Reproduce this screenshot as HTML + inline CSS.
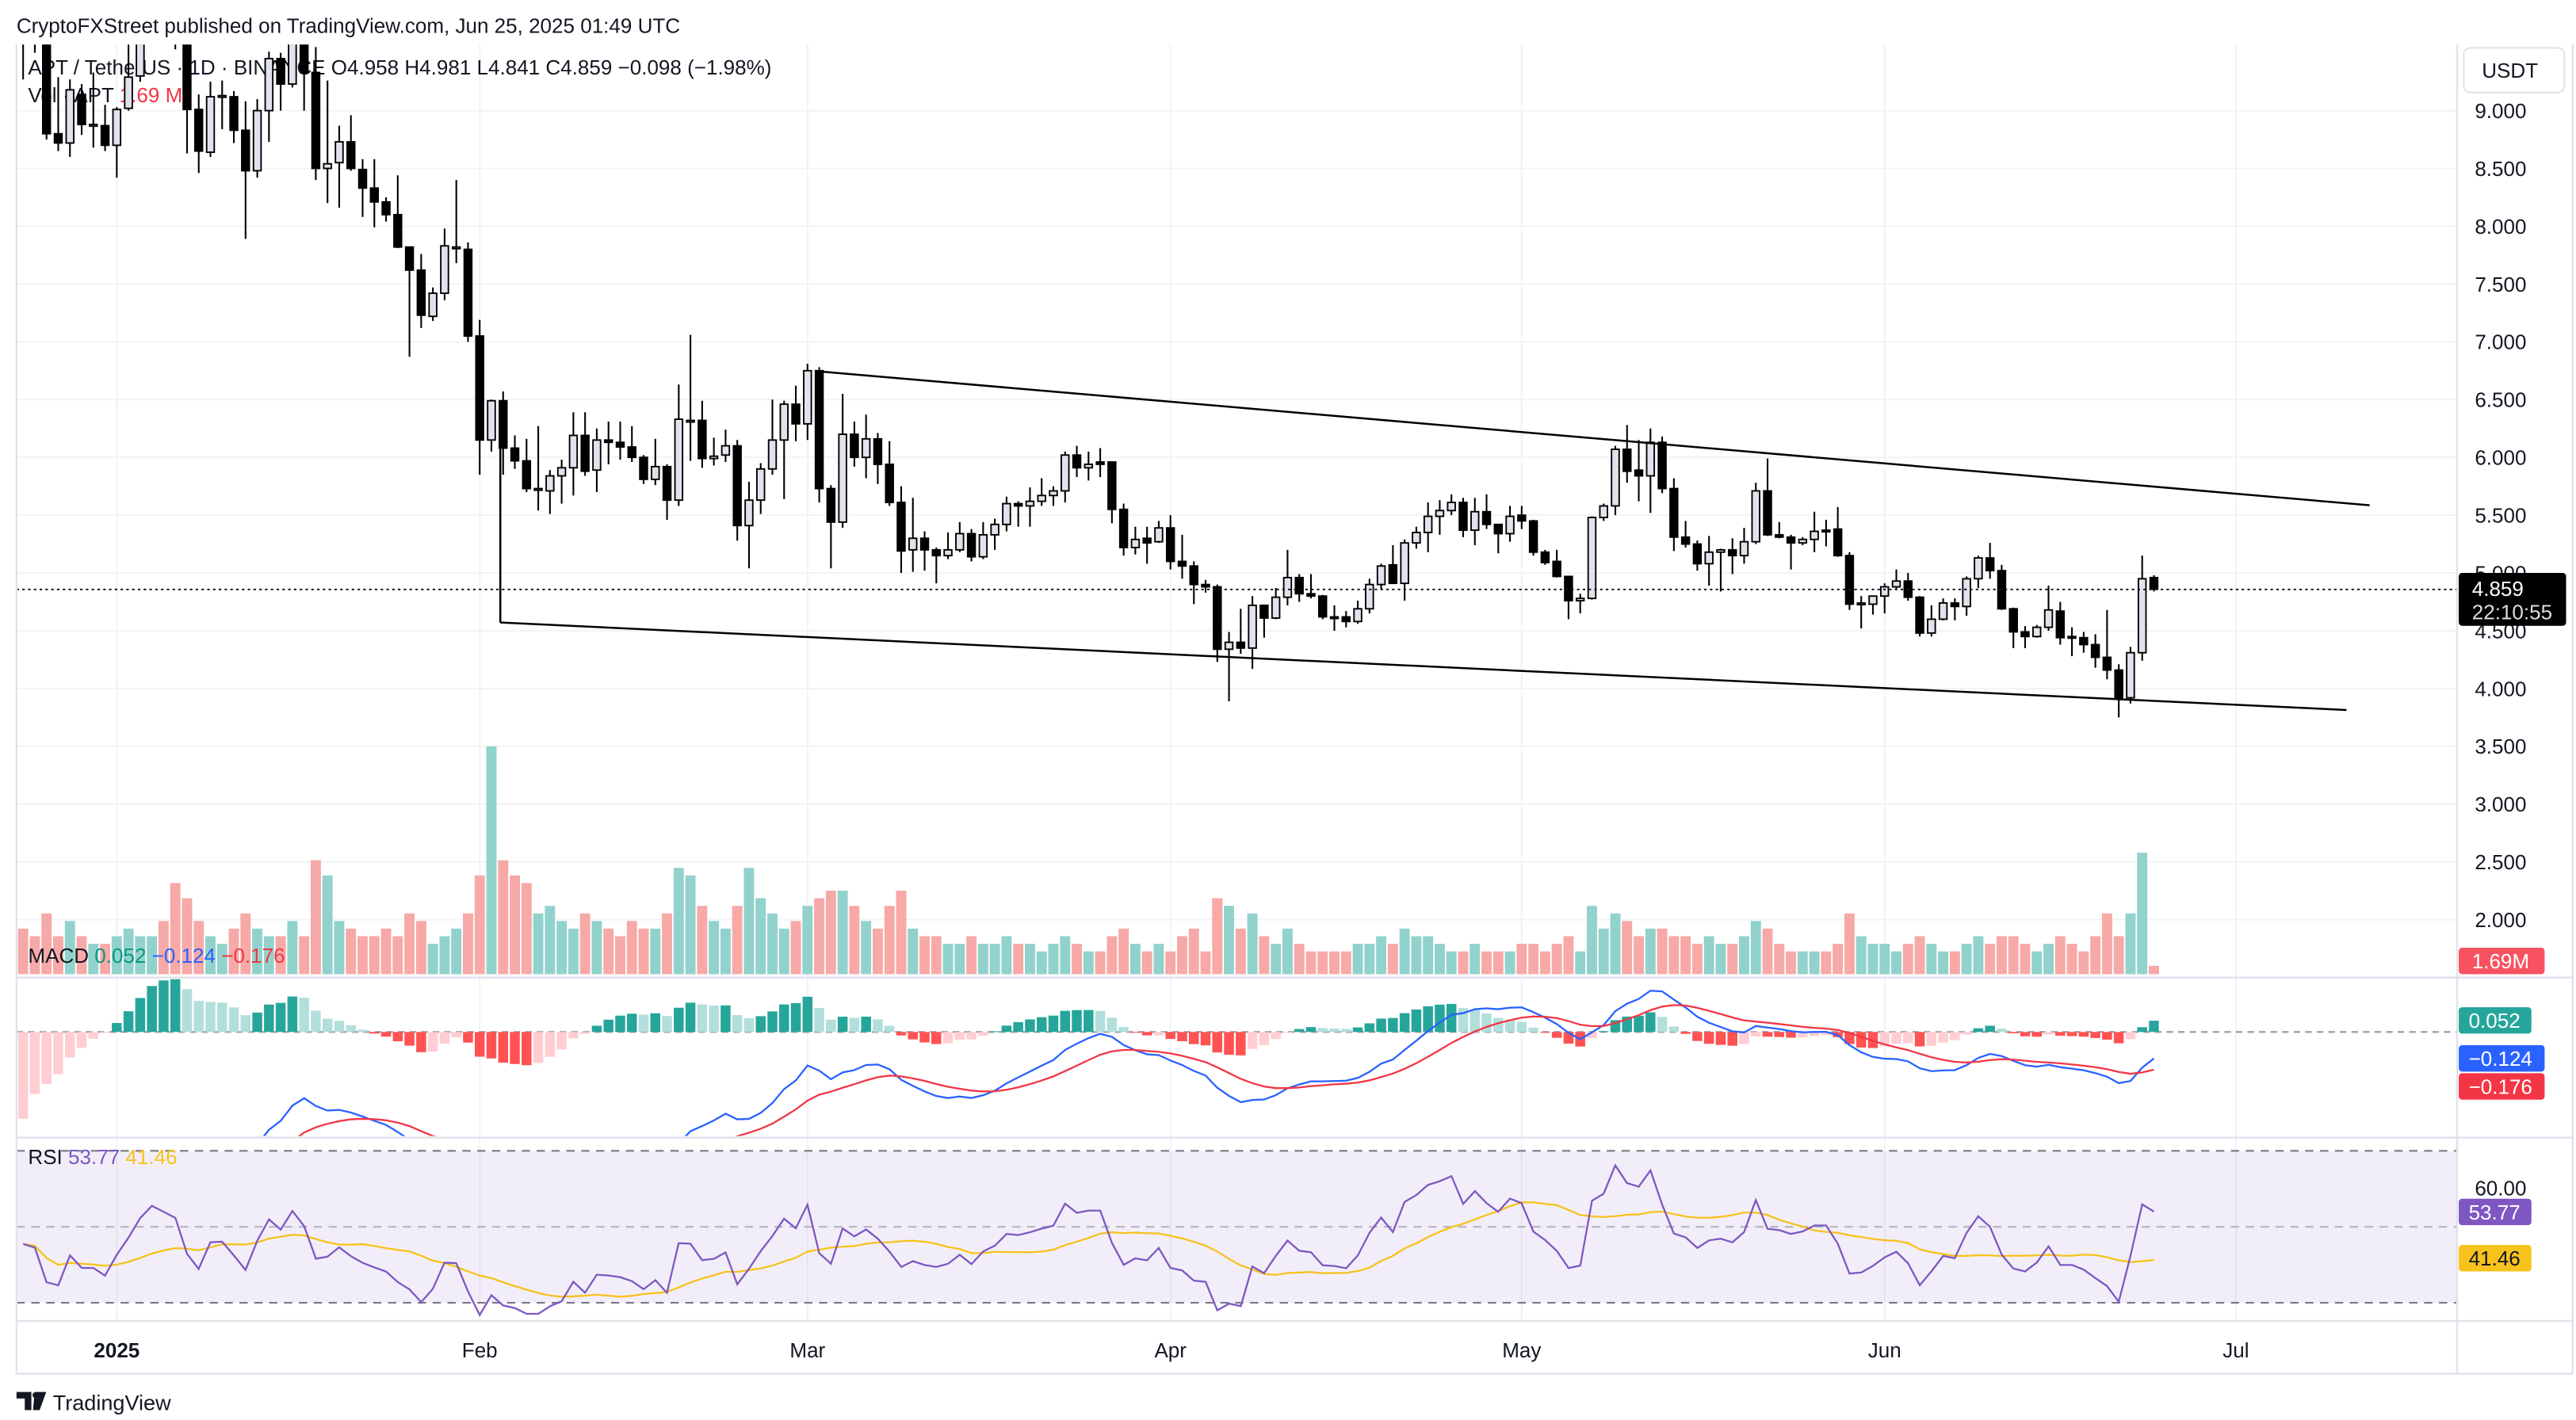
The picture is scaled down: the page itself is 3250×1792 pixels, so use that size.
<!DOCTYPE html>
<html><head><meta charset="utf-8"><title>APT/USDT</title>
<style>
html,body{margin:0;padding:0;background:#fff;}
svg{display:block;font-family:"Liberation Sans",Arial,sans-serif;}
</style></head>
<body>
<svg id="chart" width="3250" height="1792" viewBox="0 0 1560 860" preserveAspectRatio="none" xmlns="http://www.w3.org/2000/svg">
<defs>
<clipPath id="cpPrice"><rect x="10" y="27" width="1478" height="564"/></clipPath>
<clipPath id="cpMacd"><rect x="10" y="593" width="1478" height="95"/></clipPath>
<clipPath id="cpRsi"><rect x="10" y="690" width="1478" height="110"/></clipPath>
</defs>
<rect x="0" y="0" width="1560" height="860" fill="#fff"/>
<text x="10" y="20" font-size="12.5" fill="#131722">CryptoFXStreet published on TradingView.com, Jun 25, 2025 01:49 UTC</text>
<g id="grid"></g>
<rect x="10" y="697" width="1478" height="92" fill="#7e57c2" fill-opacity="0.1"/>
<g font-size="12.5" fill="#131722">
<text x="17" y="45">APT / TetherUS · 1D · BINANCE  O4.958  H4.981  L4.841  C4.859  −0.098 (−1.98%)</text>
<text x="17" y="62">Vol · APT <tspan fill="#f23645">1.69 M</tspan></text>
</g>
<g id="vol" clip-path="url(#cpPrice)"></g>
<g id="candles" clip-path="url(#cpPrice)"></g>
<g stroke="#000" stroke-width="1.2" fill="none">
<line x1="497" y1="225" x2="1435" y2="306"/>
<line x1="303" y1="377" x2="1421" y2="430"/>
<line x1="303" y1="265" x2="303" y2="377"/>
</g>
<line x1="10" y1="357" x2="1488" y2="357" stroke="#131722" stroke-width="1" stroke-dasharray="1.5 2"/>
<g id="macd"></g>
<g id="rsi"></g>
<g stroke="#e0e3eb" stroke-width="1.2">
<line x1="10" y1="592" x2="1558" y2="592"/>
<line x1="10" y1="689" x2="1558" y2="689"/>
<line x1="10" y1="800" x2="1558" y2="800"/>
<line x1="10" y1="832" x2="1558" y2="832"/>
<line x1="10" y1="27" x2="10" y2="832"/>
<line x1="1488" y1="27" x2="1488" y2="832"/>
<line x1="1558" y1="27" x2="1558" y2="832"/>
</g>
<g font-size="12.5">
<text x="17" y="583" fill="#131722">MACD <tspan fill="#089981">0.052</tspan> <tspan fill="#2962ff">−0.124</tspan> <tspan fill="#f23645">−0.176</tspan></text>
</g>
<g font-size="12.5">
<text x="17" y="705" fill="#131722">RSI <tspan fill="#7e57c2">53.77</tspan> <tspan fill="#f7c21b">41.46</tspan></text>
</g>
<g id="yaxis" font-size="12.5" fill="#131722" text-anchor="end"></g>
<rect x="1492" y="29" width="61" height="27" rx="4" fill="#fff" stroke="#e0e3eb"/>
<text x="1503" y="47" font-size="12.5" fill="#131722">USDT</text>
<g>
<rect x="1489" y="347" width="65" height="32" rx="2" fill="#000"/>
<text x="1497" y="361" font-size="12.5" fill="#fff">4.859</text>
<text x="1497" y="375" font-size="12.5" fill="#ddd">22:10:55</text>
</g>
<g>
<rect x="1489" y="574" width="52" height="16" rx="2" fill="#f7525f"/>
<text x="1497" y="586.5" font-size="12.5" fill="#fff">1.69M</text>
</g>
<g font-size="12.5">
<rect x="1489" y="610" width="44" height="16" rx="2" fill="#26a69a"/><text x="1495" y="622.5" fill="#fff">0.052</text>
<rect x="1489" y="633" width="52" height="16" rx="2" fill="#2962ff"/><text x="1495" y="645.5" fill="#fff">−0.124</text>
<rect x="1489" y="650" width="52" height="16" rx="2" fill="#f23645"/><text x="1495" y="662.5" fill="#fff">−0.176</text>
</g>
<g font-size="12.5">
<text x="1530" y="724" text-anchor="end" fill="#131722">60.00</text>
<rect x="1489" y="726" width="44" height="16" rx="2" fill="#7e57c2"/><text x="1495" y="738.5" fill="#fff">53.77</text>
<rect x="1489" y="754" width="44" height="16" rx="2" fill="#f7c21b"/><text x="1495" y="766.5" fill="#131722">41.46</text>
</g>
<g id="xaxis" font-size="12.5" fill="#131722" text-anchor="middle"></g>
<g>
<path d="M10 843 h9 v11 h-4 v-7 h-5z M21 843 h7 l-4 11 h-4z" fill="#131722"/>
<circle cx="21.5" cy="845" r="1.8" fill="#131722"/>
<text x="32" y="854" font-size="13" fill="#131722">TradingView</text>
</g>
</svg>
<script>
const startDate = "2024-12-24";
const opens = [9.8,9.62,9.6,8.8,8.72,9.14,8.88,8.87,8.70,9.02,
9.3,9.65,9.9,9.8,9.7,9.01,8.64,9.13,9.12,8.83,
8.48,9.0,9.45,9.23,9.65,9.33,8.5,8.55,8.73,8.49,
8.33,8.21,8.1,7.82,7.62,7.22,7.42,7.82,7.8,7.05,
6.15,6.49,6.08,5.97,5.73,5.71,5.84,5.91,6.19,5.89,
6.15,6.13,6.09,6.0,5.81,5.92,5.63,6.32,6.32,5.99,
6.02,6.1,5.41,5.63,5.9,6.15,6.46,6.29,6.75,5.73,
5.44,6.2,6.0,6.16,5.94,5.61,5.2,5.3,5.2,5.15,
5.2,5.34,5.14,5.33,5.42,5.6,5.58,5.62,5.67,5.71,
6.02,5.91,5.96,5.96,5.55,5.22,5.3,5.27,5.39,5.1,
5.06,4.9,4.88,4.34,4.4,4.35,4.72,4.61,4.79,4.96,
4.82,4.8,4.62,4.62,4.58,4.69,4.9,5.07,4.91,5.26,
5.35,5.49,5.54,5.61,5.37,5.53,5.42,5.34,5.5,5.45,
5.18,5.1,4.97,4.76,4.78,5.48,5.58,6.07,5.89,5.84,
6.13,5.73,5.31,5.25,5.08,5.18,5.2,5.15,5.27,5.71,
5.33,5.31,5.26,5.29,5.37,5.38,5.15,4.74,4.73,4.8,
4.88,4.93,4.79,4.48,4.6,4.74,4.71,4.95,5.13,5.02,
4.69,4.49,4.45,4.53,4.67,4.45,4.44,4.38,4.27,4.16,
3.92,4.31,4.96];
const highs = [9.85,9.7,9.62,9.29,9.27,9.23,9.33,9.05,9.03,9.6,
9.7,10.0,10.1,9.9,9.75,9.14,9.25,9.26,9.17,9.08,
9.1,9.51,9.5,9.7,9.7,9.55,9.26,8.87,8.96,8.58,
8.58,8.25,8.44,7.82,7.76,7.47,7.98,8.4,7.86,7.19,
6.5,6.57,6.19,6.16,6.27,5.89,5.98,6.39,6.39,6.25,
6.31,6.31,6.27,6.02,6.16,5.94,6.63,7.06,6.49,6.17,
6.24,6.15,5.79,5.95,6.5,6.49,6.62,6.81,6.78,5.76,
6.55,6.31,6.37,6.21,6.14,5.75,5.65,5.36,5.22,5.35,
5.44,5.38,5.44,5.47,5.66,5.62,5.74,5.82,5.75,6.05,
6.1,6.05,6.08,5.96,5.6,5.4,5.4,5.45,5.5,5.33,
5.1,4.94,4.9,4.49,4.69,4.8,4.72,4.87,5.2,4.99,
4.99,4.81,4.72,4.67,4.76,4.95,5.08,5.24,5.29,5.4,
5.61,5.63,5.68,5.65,5.65,5.68,5.42,5.58,5.58,5.46,
5.2,5.2,4.97,4.82,5.49,5.6,6.1,6.28,6.15,6.25,
6.18,5.82,5.45,5.28,5.32,5.21,5.3,5.39,5.78,5.99,
5.44,5.33,5.31,5.53,5.46,5.57,5.18,4.8,4.8,4.91,
5.03,5.0,4.8,4.72,4.78,4.78,4.97,5.15,5.26,5.07,
4.7,4.54,4.55,4.89,4.75,4.53,4.49,4.47,4.68,4.21,
4.36,5.15,4.98];
const lows = [9.27,9.5,8.75,8.65,8.6,8.79,8.68,8.65,8.42,9.0,
9.25,9.6,9.6,9.53,8.63,8.46,8.6,8.84,8.72,7.89,
8.42,8.73,9.0,9.2,9.0,8.4,8.2,8.16,8.48,8.08,
7.99,8.04,7.81,6.87,7.12,7.18,7.36,7.68,7.0,5.85,
6.05,5.85,5.9,5.7,5.54,5.51,5.6,5.67,5.84,5.7,
5.94,5.98,5.96,5.77,5.76,5.46,5.58,5.97,5.91,5.93,
5.96,5.28,5.04,5.51,5.85,5.64,6.14,6.15,5.61,5.04,
5.39,5.92,5.82,5.77,5.58,5.0,5.01,5.02,4.91,5.12,
5.18,5.1,5.12,5.2,5.36,5.4,5.4,5.58,5.58,5.61,
5.83,5.8,5.83,5.43,5.15,5.16,5.08,5.26,5.03,4.95,
4.73,4.83,4.23,3.89,4.3,4.17,4.44,4.6,4.72,4.75,
4.78,4.6,4.5,4.53,4.56,4.65,4.86,4.91,4.76,5.21,
5.18,5.33,5.5,5.31,5.24,5.38,5.17,5.27,5.38,5.15,
5.07,4.96,4.6,4.65,4.77,5.45,5.5,5.78,5.62,5.52,
5.69,5.19,5.22,5.02,4.89,4.84,4.99,5.08,5.25,5.32,
5.3,5.03,5.24,5.18,5.23,5.14,4.68,4.52,4.64,4.65,
4.86,4.76,4.45,4.45,4.59,4.59,4.63,4.87,4.95,4.68,
4.35,4.35,4.44,4.5,4.38,4.28,4.31,4.18,4.08,3.75,
3.87,4.24,4.84];
const closes = [9.65,9.58,8.8,8.72,9.18,8.88,8.88,8.70,9.01,9.29,
9.65,9.9,9.8,9.7,9.01,8.65,9.12,9.13,8.83,8.48,
9.0,9.45,9.23,9.65,9.33,8.5,8.54,8.73,8.5,8.33,
8.21,8.1,7.82,7.62,7.23,7.42,7.83,7.82,7.05,6.15,
6.49,6.08,5.97,5.73,5.73,5.84,5.91,6.19,5.88,6.15,
6.13,6.09,6.0,5.81,5.92,5.63,6.33,6.32,5.99,6.01,
6.1,5.41,5.63,5.9,6.15,6.46,6.29,6.75,5.73,5.44,
6.2,6.0,6.16,5.94,5.61,5.19,5.3,5.2,5.15,5.2,
5.34,5.14,5.33,5.42,5.6,5.58,5.62,5.67,5.71,6.02,
5.91,5.94,5.94,5.55,5.22,5.29,5.26,5.39,5.1,5.06,
4.9,4.88,4.34,4.4,4.35,4.72,4.61,4.79,4.96,4.82,
4.8,4.62,4.61,4.58,4.69,4.9,5.06,4.91,5.26,5.35,
5.49,5.54,5.61,5.37,5.53,5.42,5.34,5.49,5.45,5.18,
5.09,4.97,4.76,4.78,5.48,5.58,6.07,5.88,5.84,6.13,
5.73,5.31,5.25,5.08,5.18,5.2,5.15,5.27,5.71,5.33,
5.31,5.26,5.29,5.36,5.36,5.15,4.73,4.74,4.8,4.88,
4.93,4.79,4.48,4.6,4.74,4.71,4.95,5.13,5.02,4.69,
4.49,4.45,4.53,4.68,4.44,4.44,4.38,4.27,4.16,3.92,
4.31,4.95,4.86];
const volumes = [6,5,8,5,7,5,4,4,5,6,
5,5,7,12,10,7,5,4,6,8,
6,5,5,7,5,15,13,7,6,5,
5,6,5,8,7,4,5,6,8,13,
30,15,13,12,8,9,7,6,8,7,
6,5,7,6,6,8,14,13,9,7,
6,9,14,10,8,6,7,9,10,11,
11,9,7,6,9,11,6,5,5,4,
4,5,4,4,5,4,4,3,4,5,
4,3,3,5,6,4,3,4,3,5,
6,3,10,9,6,8,5,4,6,4,
3,3,3,3,4,4,5,4,6,5,
5,4,3,3,4,3,3,3,4,4,
3,4,5,3,9,6,8,7,5,6,
6,5,5,4,5,4,4,5,7,6,
4,3,3,3,3,4,8,5,4,4,
3,4,5,4,3,3,4,5,4,5,
5,4,3,4,5,4,3,5,8,5,
8,16,1.1];
const priceTicks = [2,2.5,3,3.5,4,4.5,5,5.5,6,6.5,7,7.5,8,8.5,9];
const monthLabels = ["2025","Feb","Mar","Apr","May","Jun","Jul"];
const monthDates = ["2025-01-01","2025-02-01","2025-03-01","2025-04-01","2025-05-01","2025-06-01","2025-07-01"];

const NS = "http://www.w3.org/2000/svg";
const X0 = 14, DX = 7.09;
const t0 = Date.parse(startDate + "T00:00:00Z");
function xIdx(i){ return X0 + i*DX; }
function xDate(s){ return xIdx((Date.parse(s + "T00:00:00Z") - t0)/86400000); }
function yP(p){ return 67 + (9 - p)*70; }
function yV(v){ return 590 - v*4.6; }
function yM(m){ return 625 - m*130; }
function yR(r){ return 743 - (r - 50)*2.3; }
function mk(tag, attrs, parent){
  const e = document.createElementNS(NS, tag);
  for (const k in attrs) e.setAttribute(k, attrs[k]);
  parent.appendChild(e);
  return e;
}

// grid
const grid = document.getElementById('grid');
priceTicks.forEach(p => {
  const l = mk('line', {x1:10, x2:1488, y1:yP(p), y2:yP(p), stroke:'#f2f3f6', 'stroke-width':1}, grid);
  
  
});
monthDates.forEach(d => {
  const x = xDate(d);
  const l = mk('line', {x1:x, x2:x, y1:27, y2:800, stroke:'#f2f3f6', 'stroke-width':1}, grid);
  
  
});

// y axis labels
const yaxis = document.getElementById('yaxis');
priceTicks.forEach(p => {
  const t = mk('text', {x:1530, y:yP(p)+4.5}, yaxis);
  t.textContent = p.toFixed(3);
  
  
});

// x axis labels
const xaxis = document.getElementById('xaxis');
monthLabels.forEach((m, k) => {
  const t = mk('text', {x:xDate(monthDates[k]), y:822}, xaxis);
  if (k === 0) t.setAttribute('font-weight', 'bold');
  t.textContent = m;
  
  
});

// volume
const vol = document.getElementById('vol');
volumes.forEach((v, i) => {
  const up = closes[i] >= opens[i];
  const y = yV(v);
  const r = mk('rect', {x:xIdx(i)-3.1, y:y, width:6.2, height:590-y, fill: up ? '#92d2cc' : '#f7a9a7'}, vol);
  
  
});

// candles
const cg = document.getElementById('candles');
closes.forEach((c, i) => {
  const o = opens[i], up = c >= o, x = xIdx(i);
  const w = mk('line', {x1:x, x2:x, y1:yP(highs[i]), y2:yP(lows[i]), stroke:'#000', 'stroke-width':1}, cg);
  
  
  const top = yP(Math.max(o, c)), bot = yP(Math.min(o, c));
  const b = mk('rect', {x:x-2.3, y:top, width:4.6, height:Math.max(bot-top, 1), fill: up ? '#e0e3eb' : '#000', stroke:'#000', 'stroke-width':0.9}, cg);
  
  
});

// MACD
const ema12 = [], ema26 = [], macdLine = [], signalLine = [], hist = [];
let e12 = 10.3, e26 = 11.6, sig = -0.75;
closes.forEach((c, i) => {
  e12 = e12 + (c - e12)*2/13;
  e26 = e26 + (c - e26)*2/27;
  const m = e12 - e26;
  sig = sig + (m - sig)*2/10;
  ema12.push(e12); ema26.push(e26);
  macdLine.push(m); signalLine.push(sig); hist.push(m - sig);
});
const mg = document.getElementById('macd');
const zl = mk('line', {x1:10, x2:1488, y1:yM(0), y2:yM(0), stroke:'#9598a1', 'stroke-width':1, 'stroke-dasharray':'4 3'}, mg);


const hg = mk('g', {'clip-path':'url(#cpMacd)'}, mg);
hist.forEach((h, i) => {
  const prev = i > 0 ? hist[i-1] : h;
  let col;
  if (h >= 0) col = h >= prev ? '#26a69a' : '#b2dfdb';
  else col = h < prev ? '#ff5252' : '#ffcdd2';
  const y1 = Math.min(yM(h), yM(0)), y2 = Math.max(yM(h), yM(0));
  const r = mk('rect', {x:xIdx(i)-3, y:y1, width:6, height:Math.max(y2-y1, 0.5), fill:col}, hg);
  
  
});
const mpath = mk('path', {d: macdLine.map((m,i)=>(i?'L':'M')+xIdx(i).toFixed(1)+' '+yM(m).toFixed(1)).join(' '), fill:'none', stroke:'#2962ff', 'stroke-width':1.1}, hg);


const spath = mk('path', {d: signalLine.map((m,i)=>(i?'L':'M')+xIdx(i).toFixed(1)+' '+yM(m).toFixed(1)).join(' '), fill:'none', stroke:'#f23645', 'stroke-width':1.1}, hg);



// RSI
const rsiVals = [], rsiMa = [];
let ag = 0.12, al = 0.14, prevC = 9.7;
closes.forEach((c, i) => {
  const d = c - prevC; prevC = c;
  ag = (ag*13 + Math.max(d,0))/14;
  al = (al*13 + Math.max(-d,0))/14;
  rsiVals.push(100 - 100/(1 + ag/al));
  const s = rsiVals.slice(Math.max(0, i-13));
  rsiMa.push(s.reduce((a,b)=>a+b,0)/s.length);
});
const rg = document.getElementById('rsi');
[[70,'#787b86','rsi-upper-band'],[50,'#b2b5be','rsi-middle-band'],[30,'#787b86','rsi-lower-band']].forEach(b => {
  const l = mk('line', {x1:10, x2:1488, y1:yR(b[0]), y2:yR(b[0]), stroke:b[1], 'stroke-width':1, 'stroke-dasharray':'5 4'}, rg);
  
  
});
const rcg = mk('g', {'clip-path':'url(#cpRsi)'}, rg);
const mapath = mk('path', {d: rsiMa.map((r,i)=>(i?'L':'M')+xIdx(i).toFixed(1)+' '+yR(r).toFixed(1)).join(' '), fill:'none', stroke:'#f7c21b', 'stroke-width':1.1}, rcg);


const rpath = mk('path', {d: rsiVals.map((r,i)=>(i?'L':'M')+xIdx(i).toFixed(1)+' '+yR(r).toFixed(1)).join(' '), fill:'none', stroke:'#7e57c2', 'stroke-width':1.1}, rcg);


</script>
</body></html>
